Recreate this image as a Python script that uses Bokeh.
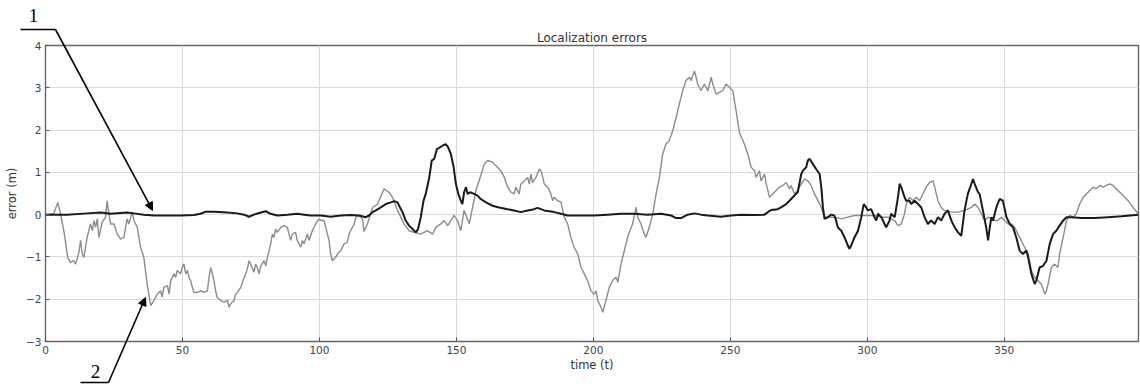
from bokeh.plotting import figure
from bokeh.models import Range1d, Arrow, NormalHead, Label, FixedTicker
from bokeh.embed import file_html
from bokeh.resources import INLINE

# ---------------- data ----------------
x_ticks = [0, 50, 100, 150, 200, 250, 300, 350]
y_ticks = [-3, -2, -1, 0, 1, 2, 3, 4]
y_tick_labels = {-3: "\u22123", -2: "\u22122", -1: "\u22121", 0: "0", 1: "1", 2: "2", 3: "3", 4: "4"}

# series 2 (grey, noisy)
gray_t = [
    0, 3.0, 4.5, 5.5, 6.9, 8.1, 9.1, 10.3, 11.0, 12.2,
    12.8, 13.4, 14.0, 15.2, 16.4, 17.1, 17.7, 18.3, 18.9, 19.5,
    20.7, 21.9, 22.5, 23.1, 23.8, 25.0, 26.2, 27.4, 28.6, 29.8,
    30.4, 31.7, 32.3, 33.5, 34.7, 35.9, 37.1, 38.4, 39.6, 40.8,
    42.0, 42.6, 43.2, 44.5, 45.1, 45.7, 46.9, 47.5, 48.1, 49.3,
    49.9, 50.5, 51.2, 51.8, 52.4, 53.0, 53.6, 54.2, 55.4, 56.6,
    57.9, 59.1, 59.7, 60.3, 61.5, 62.1, 62.7, 63.9, 65.2, 66.4,
    67.0, 67.6, 68.8, 69.4, 70.0, 71.3, 71.9, 73.1, 73.7, 74.3,
    74.9, 76.1, 76.7, 77.3, 77.9, 78.6, 79.8, 80.4, 81.0, 82.2,
    82.8, 83.4, 84.0, 84.6, 85.9, 87.1, 88.3, 88.9, 89.5, 90.1,
    91.3, 91.9, 93.2, 93.8, 94.4, 95.6, 96.2, 97.4, 98.6, 99.9,
    100.5, 101.7, 102.3, 103.5, 104.1, 104.7, 105.9, 106.6, 107.8, 109.0,
    110.2, 110.8, 111.4, 112.7, 113.3, 114.5, 115.7, 116.3, 117.5, 119.4,
    121.2, 123.6, 125.4, 126.7, 128.5, 129.7, 130.9, 132.7, 134.6, 137.0,
    139.4, 141.3, 142.5, 144.3, 145.5, 146.8, 148.0, 149.2, 150.4, 151.6,
    152.8, 154.7, 155.9, 157.1, 158.3, 160.2, 161.4, 163.2, 165.0, 166.2,
    167.5, 168.7, 169.9, 171.1, 171.7, 172.9, 173.5, 174.8, 176.0, 176.6,
    177.2, 177.8, 179.0, 180.3, 180.9, 182.1, 183.3, 184.5, 185.1, 185.7,
    187.0, 188.2, 189.4, 190.6, 191.8, 193.0, 194.3, 195.5, 196.7, 197.9,
    199.1, 200.3, 201.0, 201.6, 202.8, 203.4, 204.6, 205.8, 207.0, 208.3,
    208.9, 210.1, 211.3, 212.5, 213.1, 214.3, 215.6, 216.2, 217.4, 218.6,
    219.2, 220.4, 221.7, 222.9, 224.1, 225.3, 226.5, 227.7, 229.0, 230.2,
    231.4, 232.6, 233.8, 235.1, 235.7, 236.9, 237.5, 238.1, 239.3, 240.5,
    241.8, 243.0, 243.6, 244.8, 246.0, 247.2, 248.4, 249.7, 250.9, 252.1,
    253.3, 255.1, 256.4, 257.6, 258.8, 259.4, 260.6, 261.2, 262.5, 263.1,
    264.3, 265.5, 266.7, 267.9, 269.2, 270.4, 271.6, 272.2, 273.4, 274.6,
    275.9, 277.1, 278.3, 279.5, 280.7, 282.0, 283.2, 284.4, 285.6, 288.0,
    290.5, 292.9, 295.3, 297.8, 300.2, 302.6, 305.1, 307.5, 310.0, 311.2,
    312.4, 313.6, 314.2, 315.4, 316.7, 317.9, 319.1, 320.3, 321.5, 322.7,
    324.0, 324.6, 325.8, 327.0, 328.2, 330.7, 333.1, 335.5, 338.0, 339.2,
    340.4, 341.6, 342.8, 344.1, 345.3, 346.5, 347.7, 348.9, 350.1, 351.4,
    352.6, 353.8, 355.0, 356.2, 357.4, 358.7, 359.9, 361.1, 362.3, 363.5,
    364.8, 365.4, 366.0, 367.2, 368.4, 369.6, 370.2, 371.5, 372.7, 373.9,
    375.1, 376.3, 377.5, 378.8, 380.0, 381.2, 382.4, 383.6, 384.9, 386.1,
    387.3, 388.5, 389.7, 391.5, 393.4, 395.2, 397.0, 398.9,
]
gray_v = [
    0.00, 0.02, 0.29, 0.02, -0.46, -1.01, -1.13, -1.09, -1.17, -0.89,
    -0.61, -0.93, -1.01, -0.54, -0.22, -0.38, -0.14, -0.30, -0.10, -0.54,
    -0.18, -0.06, 0.33, 0.02, -0.22, -0.22, -0.46, -0.58, -0.54, -0.10,
    -0.22, 0.06, -0.14, -0.30, -0.77, -1.01, -1.64, -2.15, -2.03, -1.88,
    -1.80, -1.95, -1.72, -1.68, -1.88, -1.56, -1.40, -1.48, -1.32, -1.40,
    -1.25, -1.17, -1.40, -1.32, -1.48, -1.56, -1.72, -1.84, -1.84, -1.80,
    -1.84, -1.80, -1.48, -1.25, -1.56, -1.80, -1.96, -2.03, -2.07, -2.03,
    -2.19, -2.11, -2.03, -1.88, -1.84, -1.72, -1.60, -1.40, -1.28, -1.09,
    -1.17, -1.36, -1.17, -1.25, -1.40, -1.21, -1.09, -1.21, -1.01, -0.69,
    -0.46, -0.54, -0.34, -0.42, -0.30, -0.26, -0.30, -0.46, -0.61, -0.46,
    -0.42, -0.61, -0.77, -0.61, -0.69, -0.46, -0.61, -0.38, -0.22, -0.10,
    -0.14, -0.14, -0.30, -0.61, -0.93, -1.09, -1.01, -0.93, -0.85, -0.69,
    -0.65, -0.46, -0.38, -0.22, -0.06, -0.02, -0.10, -0.40, -0.22, 0.17,
    0.25, 0.61, 0.53, 0.41, 0.10, -0.06, -0.22, -0.38, -0.42, -0.46,
    -0.38, -0.46, -0.30, -0.22, -0.14, -0.26, -0.14, -0.02, -0.14, -0.38,
    0.10, -0.22, 0.17, 0.57, 0.80, 1.20, 1.28, 1.24, 1.12, 1.04,
    0.88, 0.65, 0.53, 0.49, 0.65, 0.49, 0.72, 0.80, 0.88, 0.72,
    0.96, 0.76, 0.88, 1.08, 1.04, 0.72, 0.65, 0.49, 0.33, 0.41,
    0.33, 0.29, -0.06, -0.22, -0.54, -0.77, -0.93, -1.25, -1.40, -1.56,
    -1.80, -1.88, -1.80, -2.03, -2.19, -2.31, -2.03, -1.72, -1.56, -1.48,
    -1.60, -1.17, -0.85, -0.54, -0.42, -0.22, 0.17, -0.06, -0.22, -0.46,
    -0.54, -0.30, 0.02, 0.49, 0.88, 1.43, 1.67, 1.75, 1.99, 2.30,
    2.62, 2.93, 3.17, 3.25, 3.17, 3.40, 3.25, 3.09, 2.93, 3.09,
    2.93, 3.25, 3.09, 2.85, 2.89, 2.93, 3.09, 3.01, 2.93, 2.46,
    1.95, 1.67, 1.43, 1.12, 1.04, 0.88, 1.04, 0.80, 0.96, 0.73,
    0.41, 0.49, 0.57, 0.65, 0.69, 0.76, 0.61, 0.69, 0.49, 0.57,
    0.73, 0.84, 0.80, 0.69, 0.49, 0.33, 0.17, -0.06, -0.06, -0.06,
    -0.10, -0.06, -0.02, -0.02, -0.02, -0.02, -0.06, -0.06, -0.14, -0.26,
    -0.22, 0.02, 0.25, 0.41, 0.33, 0.41, 0.33, 0.49, 0.65, 0.76,
    0.80, 0.65, 0.33, 0.17, 0.10, 0.06, 0.06, 0.10, 0.17, 0.25,
    0.17, 0.02, -0.14, -0.06, -0.10, -0.14, -0.14, -0.06, -0.14, -0.22,
    -0.22, -0.30, -0.46, -0.61, -0.77, -0.93, -1.32, -1.48, -1.56, -1.64,
    -1.88, -1.80, -1.64, -1.25, -1.17, -1.25, -0.93, -0.54, -0.14, -0.02,
    -0.06, 0.02, 0.25, 0.41, 0.49, 0.57, 0.65, 0.61, 0.69, 0.65,
    0.69, 0.73, 0.69, 0.57, 0.45, 0.33, 0.17, 0.02,
]

# series 1 (black)
black_t = [
    0, 7.9, 15.2, 20.1, 23.8, 29.8, 32.3, 35.9, 39.6, 44.5,
    49.3, 54.2, 56.6, 58.5, 61.5, 66.4, 70.0, 72.5, 74.3, 76.1,
    78.6, 80.4, 82.2, 84.6, 88.3, 91.9, 94.4, 96.8, 100.5, 104.1,
    107.8, 111.4, 114.5, 116.9, 118.1, 119.4, 120.6, 122.4, 124.2, 126.1,
    127.3, 128.5, 129.1, 130.3, 131.5, 132.7, 134.0, 135.2, 136.0, 137.0,
    138.0, 138.8, 140.1, 141.0, 141.9, 142.9, 143.7, 144.9, 146.1, 147.0,
    148.0, 149.0, 149.8, 150.7, 151.6, 152.2, 152.8, 153.5, 154.1, 155.0,
    156.5, 157.7, 158.9, 160.8, 163.2, 165.6, 168.7, 171.1, 173.5, 176.0,
    178.4, 179.6, 182.1, 185.7, 188.2, 190.6, 195.5, 200.3, 205.2, 210.1,
    215.0, 219.8, 224.7, 228.4, 230.2, 232.0, 234.4, 236.9, 239.3, 241.8,
    246.6, 250.3, 253.9, 258.8, 262.5, 263.7, 264.9, 267.3, 268.5, 270.4,
    271.6, 272.8, 274.0, 274.6, 275.2, 275.9, 276.5, 277.7, 278.3, 278.9,
    280.1, 281.3, 282.6, 283.2, 283.8, 284.4, 285.6, 286.8, 288.0, 288.6,
    289.2, 290.5, 291.7, 292.9, 293.5, 294.1, 295.3, 296.6, 297.8, 298.7,
    299.6, 300.2, 301.4, 302.6, 303.3, 303.9, 305.1, 306.3, 306.9, 308.1,
    308.7, 310.0, 311.2, 311.8, 312.4, 313.6, 314.2, 315.4, 316.0, 317.3,
    318.5, 319.7, 320.9, 322.1, 323.3, 324.6, 325.8, 327.0, 328.2, 329.4,
    330.7, 331.9, 333.1, 334.3, 335.5, 336.7, 338.0, 338.6, 339.2, 340.4,
    341.0, 342.2, 343.4, 344.1, 344.7, 345.3, 345.9, 347.1, 348.3, 349.5,
    350.8, 352.0, 353.2, 354.4, 355.6, 356.8, 358.1, 358.7, 359.9, 361.1,
    361.7, 362.9, 364.2, 365.4, 366.6, 367.8, 369.0, 370.2, 371.5, 372.7,
    374.5, 378.2, 383.0, 387.9, 392.8, 399.0,
]
black_v = [
    0.00, 0.00, 0.03, 0.05, 0.02, 0.05, 0.03, 0.00, -0.02, -0.02,
    -0.02, -0.01, 0.02, 0.07, 0.07, 0.05, 0.03, 0.00, -0.05, 0.00,
    0.05, 0.08, 0.02, -0.02, 0.00, 0.02, 0.00, -0.02, -0.02, -0.05,
    -0.02, -0.01, -0.02, -0.06, -0.02, 0.06, 0.10, 0.17, 0.25, 0.29,
    0.32, 0.29, 0.21, 0.06, -0.14, -0.26, -0.34, -0.42, -0.34, -0.06,
    0.33, 0.49, 0.88, 1.28, 1.32, 1.55, 1.58, 1.63, 1.67, 1.59,
    1.43, 1.12, 0.73, 0.49, 0.33, 0.25, 0.53, 0.65, 0.49, 0.53,
    0.49, 0.45, 0.37, 0.29, 0.21, 0.17, 0.13, 0.10, 0.06, 0.10,
    0.13, 0.16, 0.10, 0.06, 0.02, -0.02, -0.02, -0.02, 0.00, 0.02,
    0.02, 0.00, 0.02, -0.02, -0.08, -0.08, 0.00, 0.03, 0.00, -0.02,
    -0.05, -0.02, 0.00, -0.01, 0.00, 0.06, 0.11, 0.13, 0.17, 0.25,
    0.33, 0.41, 0.49, 0.53, 0.73, 0.96, 1.04, 1.12, 1.28, 1.32,
    1.20, 1.08, 0.96, 0.65, 0.17, -0.10, -0.06, 0.00, -0.02, -0.14,
    -0.30, -0.38, -0.54, -0.73, -0.81, -0.73, -0.54, -0.38, -0.06, 0.25,
    0.17, 0.10, 0.13, -0.06, -0.14, 0.02, -0.06, -0.22, -0.30, -0.14,
    0.02, -0.06, 0.41, 0.73, 0.65, 0.41, 0.33, 0.33, 0.25, 0.33,
    0.25, 0.17, -0.06, -0.22, -0.14, -0.22, -0.06, -0.14, 0.02, 0.10,
    -0.14, -0.30, -0.42, -0.50, 0.10, 0.49, 0.73, 0.84, 0.73, 0.53,
    0.49, 0.10, -0.30, -0.61, -0.30, -0.06, -0.14, 0.17, 0.37, 0.33,
    -0.06, -0.22, -0.30, -0.54, -0.85, -0.93, -0.85, -1.01, -1.40, -1.64,
    -1.56, -1.25, -1.21, -1.09, -0.69, -0.46, -0.38, -0.26, -0.14, -0.06,
    -0.06, -0.08, -0.08, -0.06, -0.04, 0.00,
]

# callout targets (data coordinates) for the markers "1" and "2"
callout1_target = (39.1, 0.10)
callout2_target = (36.5, -1.96)

# ---------------- geometry ----------------
W, H = 1140, 384
FL, FR, FT, FB = 45, 2, 45, 43          # borders around the plot frame
X0, X1, Y0, Y1 = 0, 399, -3, 4
FONT = "DejaVu Sans"

# ---------------- main chart ----------------
p = figure(width=W, height=H,
           x_range=Range1d(X0, X1), y_range=Range1d(Y0, Y1),
           output_backend="svg", toolbar_location=None,
           min_border_left=FL, min_border_right=FR, min_border_top=FT, min_border_bottom=FB,
           title="Localization errors", x_axis_label="time (t)", y_axis_label="error (m)")
p.background_fill_color = "white"
p.border_fill_color = "white"
p.outline_line_color = "#666666"
p.outline_line_width = 1.4

p.title.align = "center"
p.title.text_font = FONT
p.title.text_font_size = "12px"
p.title.text_font_style = "normal"
p.title.text_color = "#333333"
p.title.standoff = 2

for ax in (p.xaxis[0], p.yaxis[0]):
    ax.major_tick_in = 4
    ax.major_tick_out = 0
    ax.minor_tick_in = 0
    ax.minor_tick_out = 0
    ax.axis_line_color = None
    ax.major_tick_line_color = "#555555"
    ax.major_label_text_font = FONT
    ax.major_label_text_font_size = "10.5px"
    ax.major_label_text_color = "#444444"
    ax.axis_label_text_font = FONT
    ax.axis_label_text_font_size = "11.5px"
    ax.axis_label_text_font_style = "normal"
    ax.axis_label_text_color = "#333333"

p.xaxis[0].ticker = FixedTicker(ticks=x_ticks)
p.yaxis[0].ticker = FixedTicker(ticks=y_ticks)
p.yaxis[0].major_label_overrides = y_tick_labels
p.xaxis[0].major_label_standoff = 4
p.xaxis[0].axis_label_standoff = 1
p.yaxis[0].major_label_standoff = 4
p.yaxis[0].axis_label_standoff = 4

p.grid.grid_line_color = "#dadada"
p.grid.grid_line_width = 1

p.line(gray_t, gray_v, line_color="#8c8c8c", line_width=1.4)
p.line(black_t, black_v, line_color="#1a1a1a", line_width=2.0)

# ---------------- transparent overlay for the callouts (pixel space) ----------------
sx = (W - FL - FR) / (X1 - X0)
sy = (H - FT - FB) / (Y1 - Y0)

def to_px(t, v):
    return FL + (t - X0) * sx, FT + (Y1 - v) * sy

ov = figure(width=W, height=H, x_range=Range1d(0, W), y_range=Range1d(H, 0),
            output_backend="svg", toolbar_location=None,
            min_border_left=0, min_border_right=0, min_border_top=0, min_border_bottom=0,
            x_axis_type=None, y_axis_type=None)
ov.grid.visible = False
ov.background_fill_color = None
ov.border_fill_color = None
ov.outline_line_color = None
ov.margin = (-H, 0, 0, 0)

def head():
    return NormalHead(size=8, fill_color="black", line_color="black", line_width=1)

tip1 = to_px(*callout1_target)
tip2 = to_px(*callout2_target)

ov.add_layout(Arrow(x_start=20, y_start=29, x_end=55, y_end=29, end=None,
                    line_color="black", line_width=1.6))
ov.add_layout(Arrow(x_start=55, y_start=29, x_end=tip1[0], y_end=tip1[1], end=head(),
                    line_color="black", line_width=1.6))
ov.add_layout(Arrow(x_start=80, y_start=382, x_end=108, y_end=382, end=None,
                    line_color="black", line_width=1.6))
ov.add_layout(Arrow(x_start=108, y_start=382, x_end=tip2[0], y_end=tip2[1], end=head(),
                    line_color="black", line_width=1.6))
ov.add_layout(Label(x=33, y=15, text="1", text_font="Liberation Serif", text_font_size="19px",
                    text_align="center", text_baseline="middle", text_color="black"))
ov.add_layout(Label(x=95, y=371, text="2", text_font="Liberation Serif", text_font_size="19px",
                    text_align="center", text_baseline="middle", text_color="black"))

# two separate roots (no shared layout), the overlay pulled up over the chart
open("out.html", "w").write(file_html([p, ov], INLINE))
